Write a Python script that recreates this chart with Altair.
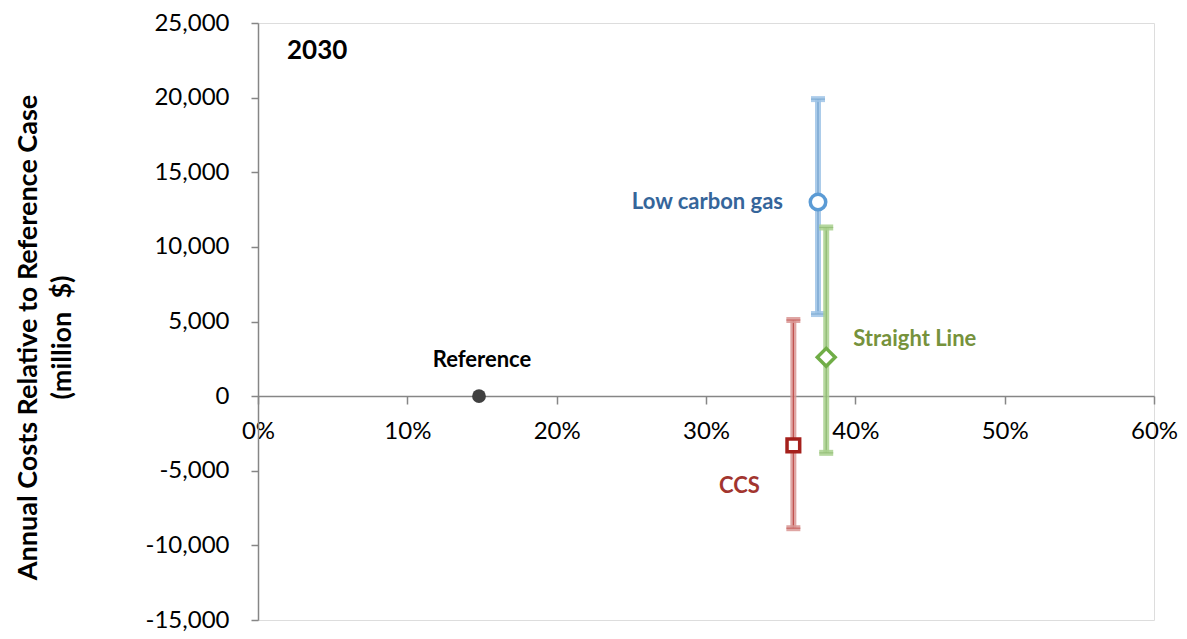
import altair as alt
import pandas as pd

# ---- data ----
series = ["Reference", "Low carbon gas", "Straight Line", "CCS"]
reduction = [0.148, 0.375, 0.3805, 0.3585]          # share (x)
cost = [0, 13000, 2600, -3300]                         # million $ (y)
cost_low = [None, 5500, -3800, -8850]
cost_high = [None, 19900, 11300, 5100]

x_ticks = [0, 0.1, 0.2, 0.3, 0.4, 0.5, 0.6]
y_ticks = [-15000, -10000, -5000, 0, 5000, 10000, 15000, 20000, 25000]

df = pd.DataFrame({"series": series, "reduction": reduction, "cost": cost,
                   "low": cost_low, "high": cost_high})

FONT = "Lato"

style = {
    "Reference":      dict(shape="circle",  filled=True,  stroke="#404040", size=190,
                           label="#000000", align="center", dx=3,   dy=-36),
    "Low carbon gas": dict(shape="circle",  filled=False, stroke="#5B9BD5", size=240,
                           band="#9DC3E6", line="#6F9FCB", label="#35659A",
                           align="right", dx=-35, dy=0),
    "Straight Line":  dict(shape="diamond", filled=False, stroke="#70AD47", size=320,
                           band="#A9D18E", line="#8DB870", label="#76923C",
                           align="left", dx=27, dy=-18),
    "CCS":            dict(shape="square",  filled=False, stroke="#A5201C", size=160,
                           band="#D99694", line="#C0504D", label="#A2352F",
                           align="center", dx=-54, dy=41),
}

x_scale = alt.Scale(domain=[0, 0.6], nice=False, zero=False)
y_scale = alt.Scale(domain=[-15000, 25000], nice=False, zero=False)

x_axis = alt.Axis(values=x_ticks, format=".0%", grid=False, offset=-224,
                  domainColor="#868686", tickColor="#868686", domainWidth=1.5,
                  tickWidth=1.5, tickSize=8, labelFontSize=24, labelFont=FONT,
                  labelColor="#000000", labelPadding=15, labelFlush=False,
                  labelOverlap=False, title="")
y_axis = alt.Axis(values=y_ticks, grid=False,
                  labelExpr="(datum.value < 0 ? '-' : '') + format(abs(datum.value), ',')",
                  domainColor="#868686", tickColor="#868686", domainWidth=1.5,
                  tickWidth=1.5, tickSize=7, labelFontSize=24, labelFont=FONT,
                  labelColor="#000000", labelPadding=22, labelFlush=False,
                  labelOverlap=False,
                  title=["Annual Costs Relative to Reference Case",
                         "(million\u00a0\u00a0$)"],
                  titleFont=FONT, titleFontSize=27, titleFontWeight="bold",
                  titleColor="#000000", titleLineHeight=34, titleAngle=-90,
                  titleAlign="center", titleBaseline="alphabetic",
                  titleX=-222, titleY=314)


def X():
    return alt.X("reduction:Q", scale=x_scale, axis=x_axis)


def Y(field):
    return alt.Y(field, scale=y_scale, axis=y_axis)


base = alt.Chart(df)

layers = []

# error bars
for name in series:
    s = style[name]
    if "band" not in s:
        continue
    sub = base.transform_filter(alt.datum.series == name)
    layers.append(sub.mark_rule(strokeWidth=6, color=s["band"], opacity=0.85).encode(
        x=X(), y=Y("low:Q"), y2="high:Q"))
    layers.append(sub.mark_rule(strokeWidth=1.2, color=s["line"]).encode(
        x=X(), y=Y("low:Q"), y2="high:Q"))
    caps = sub.transform_fold(["low", "high"], as_=["end", "val"])
    layers.append(caps.mark_tick(orient="horizontal", size=14, thickness=6,
                                 color=s["band"], opacity=0.85).encode(
        x=X(), y=Y("val:Q")))
    layers.append(caps.mark_tick(orient="horizontal", size=14, thickness=1.2,
                                 color=s["line"]).encode(
        x=X(), y=Y("val:Q")))

# markers and labels
for name in series:
    s = style[name]
    sub = base.transform_filter(alt.datum.series == name)
    if s["filled"]:
        mk = sub.mark_point(shape=s["shape"], filled=True, color=s["stroke"],
                            size=s["size"], opacity=1)
    else:
        mk = sub.mark_point(shape=s["shape"], filled=False, fill="#FFFFFF",
                            fillOpacity=1, stroke=s["stroke"], strokeWidth=3.5,
                            size=s["size"], opacity=1)
    layers.append(mk.encode(x=X(), y=Y("cost:Q")))
    layers.append(sub.mark_text(font=FONT, fontSize=22, fontWeight="bold",
                                color=s["label"], align=s["align"],
                                baseline="middle", dx=s["dx"], dy=s["dy"]).encode(
        x=X(), y=Y("cost:Q"), text="series:N"))

# year caption
layers.append(
    alt.Chart(pd.DataFrame({"t": ["2030"]})).mark_text(
        font=FONT, fontSize=26, fontWeight="bold", color="#000000",
        align="left", baseline="middle").encode(
        x=alt.value(29), y=alt.value(28), text="t:N")
)

chart = alt.layer(*layers).properties(
    width=896, height=597,
    autosize=alt.AutoSizeParams(type="none"),
    padding={"left": 250, "top": 15, "right": 25, "bottom": 14},
).configure_view(strokeWidth=0).configure(background="#FFFFFF")

chart.save("out.html", embed_options={"renderer": "svg", "actions": False})
